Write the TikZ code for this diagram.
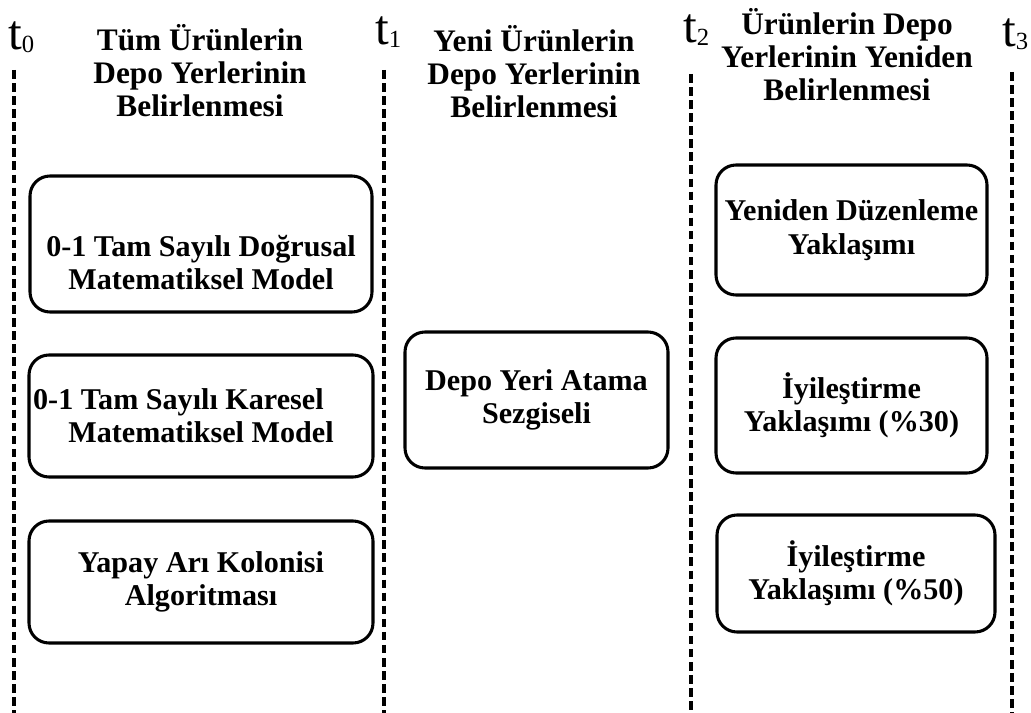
\documentclass[tikz,border=0pt]{standalone}
\usepackage{fontspec}
\setmainfont{Liberation Serif}
\usetikzlibrary{positioning}
\tikzset{
  stepbox/.style={rectangle, rounded corners=15pt, draw=black, line width=2.3pt,
              align=center, inner sep=0pt, font=\fontsize{22.6}{25}\selectfont\bfseries},
  hdr/.style={align=center, inner sep=0pt, anchor=base, font=\fontsize{23.5}{25}\selectfont\bfseries},
  tlab/.style={inner sep=0pt, anchor=base west, font=\fontsize{37}{40}\selectfont},
  tline/.style={line width=2.6pt, dash pattern=on 6.4pt off 3.4pt}
}
\newcommand{\tsub}[1]{t{\fontsize{18.5}{20}\selectfont\raisebox{-2pt}{#1}}}

\begin{document}
\begin{tikzpicture}[x=0.75pt, y=-0.75pt]
\useasboundingbox (0,0) rectangle (1031,713);
% time marks
\node[tlab] (t0) at (8,50) {\tsub{0}};
\node[tlab] (t1) at (375,45) {\tsub{1}};
\node[tlab] (t2) at (683,43) {\tsub{2}};
\node[tlab] (t3) at (1002,47) {\tsub{3}};
\coordinate (l0a) at (14,70);  \coordinate (l0b) at (14,713);
\coordinate (l1a) at (384,70); \coordinate (l1b) at (384,713);
\coordinate (l2a) at (691,74); \coordinate (l2b) at (691,713);
\coordinate (l3a) at (1012,72); \coordinate (l3b) at (1012,713);
\draw[tline] (l0a)--(l0b); \draw[tline] (l1a)--(l1b); \draw[tline] (l2a)--(l2b); \draw[tline] (l3a)--(l3b);
% stage headings (base = last line)
\node[hdr] (h1) at (200,117) {Tüm Ürünlerin\\ Depo Yerlerinin\\ Belirlenmesi};
\node[hdr] (h2) at (534,118) {Yeni Ürünlerin\\ Depo Yerlerinin\\ Belirlenmesi};
\node[hdr] (h3) at (847,101) {Ürünlerin Depo\\ Yerlerinin Yeniden\\ Belirlenmesi};
% stage 1
\node[stepbox, minimum width=256.5pt, minimum height=102pt] (m1) at (201,244) {\rule{0pt}{44pt}0-1 Tam Sayılı Doğrusal\\ Matematiksel Model};
\node[stepbox, minimum width=258pt, minimum height=91.5pt] (m2) at (201,416) {0-1 Tam Sayılı Karesel\hspace*{1.5em}\\ Matematiksel Model};
\node[stepbox, minimum width=258pt, minimum height=91.5pt] (m3) at (201,582) {Yapay Arı Kolonisi\\ Algoritması};
% stage 2
\node[stepbox, minimum width=197.25pt, minimum height=102pt] (s1) at (536.5,400) {Depo Yeri Atama\\ Sezgiseli};
% stage 3
\node[stepbox, minimum width=203.25pt, minimum height=97.5pt] (r1) at (851.5,230) {Yeniden Düzenleme\\ Yaklaşımı};
\node[stepbox, minimum width=203.25pt, minimum height=101.25pt] (r2) at (851.5,405.5) {İyileştirme\\ Yaklaşımı (\%30)};
\node[stepbox, minimum width=208.5pt, minimum height=87.75pt] (r3) at (856,573.5) {İyileştirme\\ Yaklaşımı (\%50)};
\end{tikzpicture}
\end{document}
